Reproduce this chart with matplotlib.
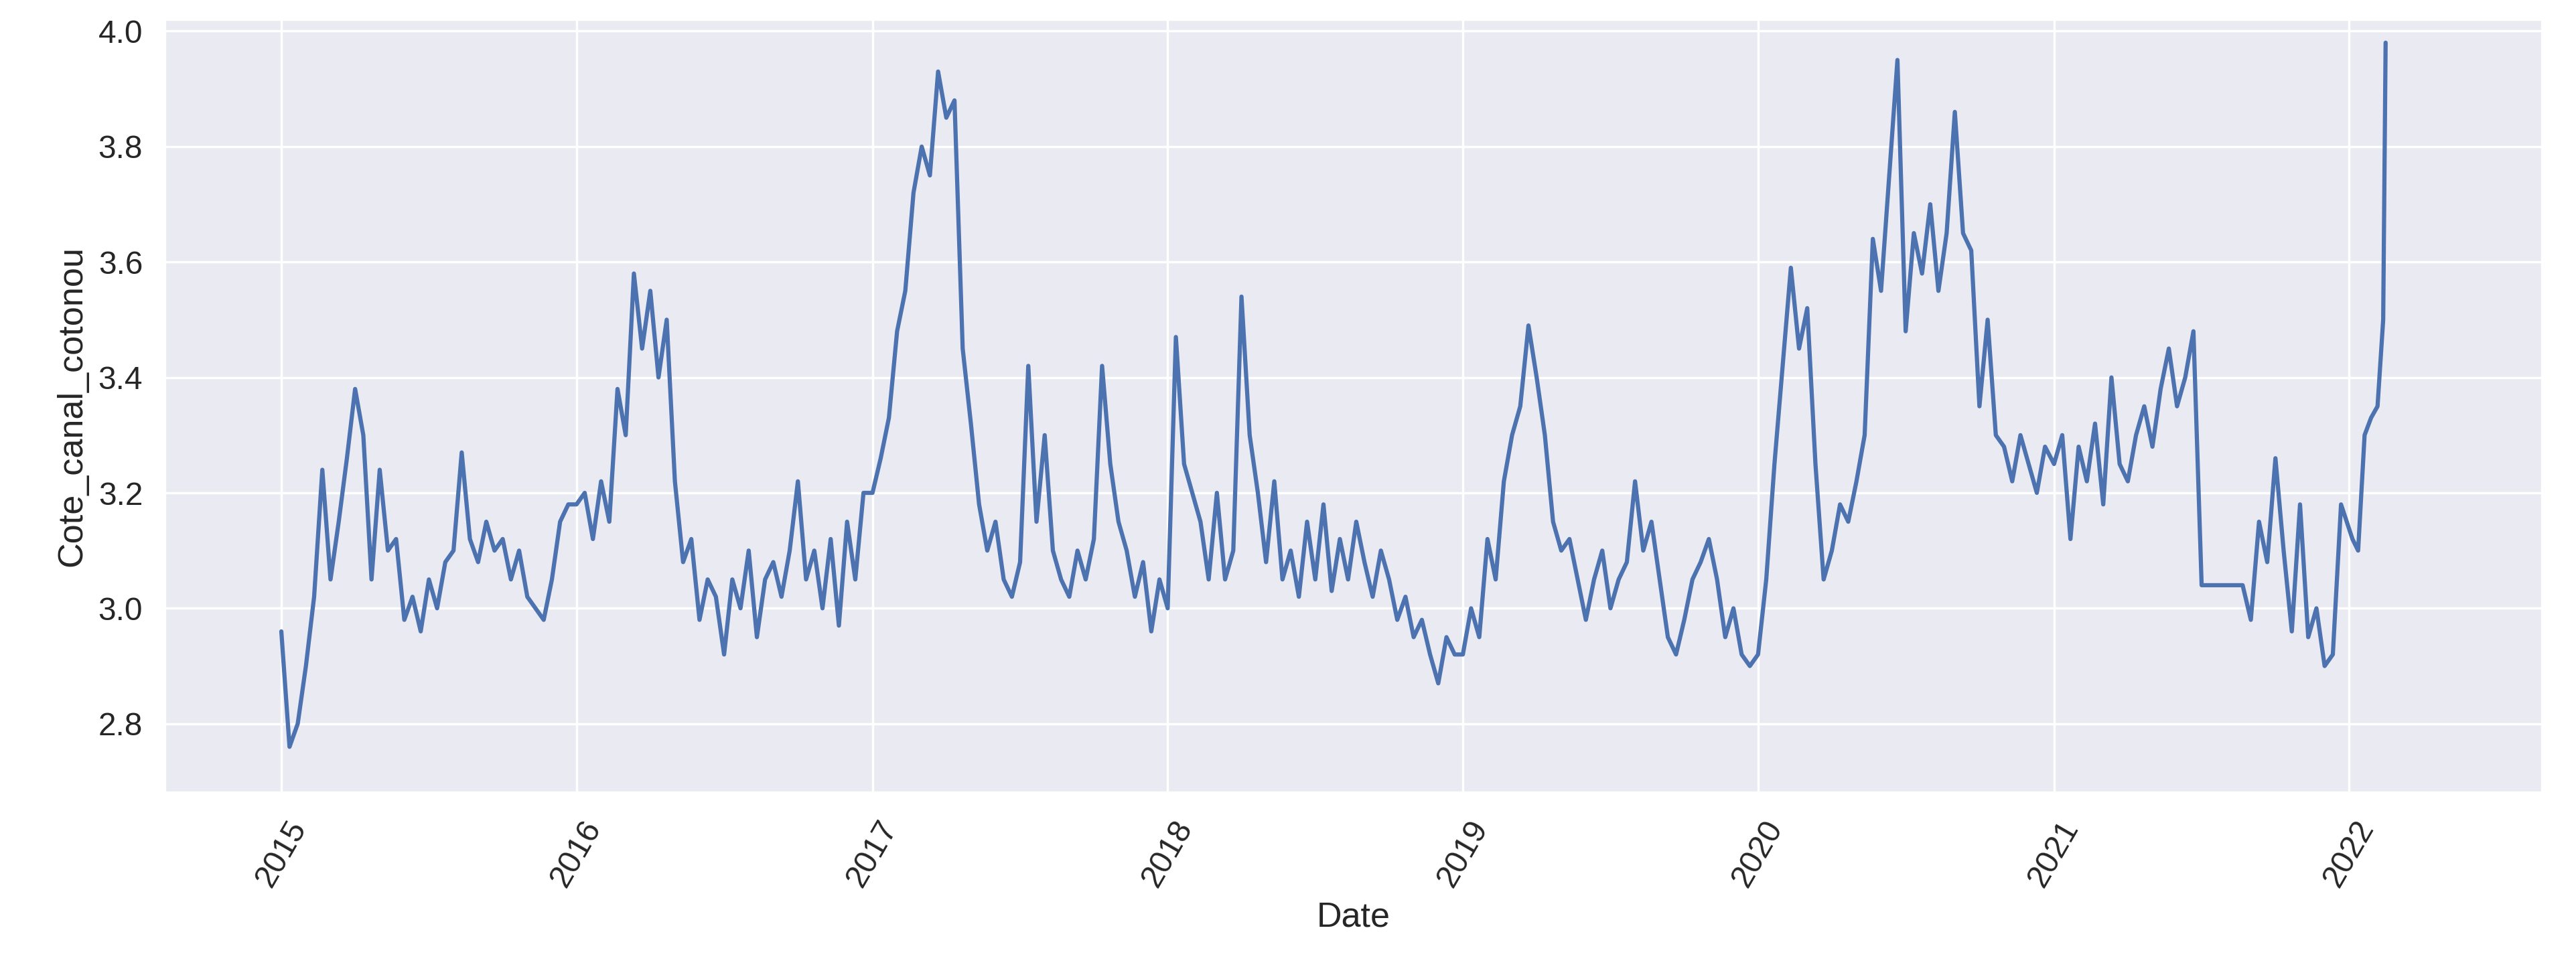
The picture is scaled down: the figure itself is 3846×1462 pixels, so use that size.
import numpy as np
import pandas as pd
import matplotlib
matplotlib.use("Agg")
import matplotlib.pyplot as plt
import seaborn as sns

# --- DATA (~10-day steps) ---
v2015 = [2.96, 2.76, 2.80, 2.90, 3.02, 3.24, 3.05, 3.15, 3.26, 3.38, 3.30, 3.05, 3.24, 3.10, 3.12, 2.98, 3.02, 2.96,
         3.05, 3.00, 3.08, 3.10, 3.27, 3.12, 3.08, 3.15, 3.10, 3.12, 3.05, 3.10, 3.02, 3.00, 2.98, 3.05, 3.15, 3.18]
v2016 = [3.18, 3.20, 3.12, 3.22, 3.15, 3.38, 3.30, 3.58, 3.45, 3.55, 3.40, 3.50, 3.22, 3.08, 3.12, 2.98, 3.05, 3.02,
         2.92, 3.05, 3.00, 3.10, 2.95, 3.05, 3.08, 3.02, 3.10, 3.22, 3.05, 3.10, 3.00, 3.12, 2.97, 3.15, 3.05, 3.20]
v2017 = [3.20, 3.26, 3.33, 3.48, 3.55, 3.72, 3.80, 3.75, 3.93, 3.85, 3.88, 3.45, 3.32, 3.18, 3.10, 3.15, 3.05, 3.02,
         3.08, 3.42, 3.15, 3.30, 3.10, 3.05, 3.02, 3.10, 3.05, 3.12, 3.42, 3.25, 3.15, 3.10, 3.02, 3.08, 2.96, 3.05]
v2018 = [3.00, 3.47, 3.25, 3.20, 3.15, 3.05, 3.20, 3.05, 3.10, 3.54, 3.30, 3.20, 3.08, 3.22, 3.05, 3.10, 3.02, 3.15,
         3.05, 3.18, 3.03, 3.12, 3.05, 3.15, 3.08, 3.02, 3.10, 3.05, 2.98, 3.02, 2.95, 2.98, 2.92, 2.87, 2.95, 2.92]
v2019 = [2.92, 3.00, 2.95, 3.12, 3.05, 3.22, 3.30, 3.35, 3.49, 3.40, 3.30, 3.15, 3.10, 3.12, 3.05, 2.98, 3.05, 3.10,
         3.00, 3.05, 3.08, 3.22, 3.10, 3.15, 3.05, 2.95, 2.92, 2.98, 3.05, 3.08, 3.12, 3.05, 2.95, 3.00, 2.92, 2.90]
v2020 = [2.92, 3.05, 3.25, 3.42, 3.59, 3.45, 3.52, 3.25, 3.05, 3.10, 3.18, 3.15, 3.22, 3.30, 3.64, 3.55, 3.75, 3.95,
         3.48, 3.65, 3.58, 3.70, 3.55, 3.65, 3.86, 3.65, 3.62, 3.35, 3.50, 3.30, 3.28, 3.22, 3.30, 3.25, 3.20, 3.28]
v2021 = [3.25, 3.30, 3.12, 3.28, 3.22, 3.32, 3.18, 3.40, 3.25, 3.22, 3.30, 3.35, 3.28, 3.38, 3.45, 3.35, 3.40, 3.48,
         3.04, 3.04, 3.04, 3.04, 3.04, 3.04, 2.98, 3.15, 3.08, 3.26, 3.10, 2.96, 3.18, 2.95, 3.00, 2.90, 2.92, 3.18]
d2022 = ["2022-01-05", "2022-01-12", "2022-01-20", "2022-01-28", "2022-02-05", "2022-02-12", "2022-02-15"]
v2022 = [3.12, 3.10, 3.30, 3.33, 3.35, 3.50, 3.98]

years = {2015: v2015, 2016: v2016, 2017: v2017, 2018: v2018, 2019: v2019, 2020: v2020, 2021: v2021}

dates, values = [], []
for y, vals in years.items():
    start = pd.Timestamp(f"{y}-01-01")
    dates += list(start + pd.to_timedelta(np.arange(len(vals)) * 365 / len(vals), unit="D"))
    values += vals
dates += list(pd.to_datetime(d2022))
values += v2022

# --- PLOT ---
sns.set_theme(style="darkgrid", font_scale=1.25)
plt.rcParams['font.family'] = ['Liberation Sans', 'DejaVu Sans']
fig, ax = plt.subplots(figsize=(15.384, 5.848), dpi=250)
ax.plot(dates, values, color="#4c72b0", lw=1.8)
ax.set_xlabel("Date")
ax.set_ylabel("Cote_canal_cotonou")
ax.set_xlim(pd.Timestamp("2014-08-10"), pd.Timestamp("2022-08-28"))
ax.set_ylim(2.68, 4.02)
plt.setp(ax.get_xticklabels(), rotation=60)
fig.subplots_adjust(left=0.064, right=0.987, top=0.98, bottom=0.19)
fig.savefig("out.png")
